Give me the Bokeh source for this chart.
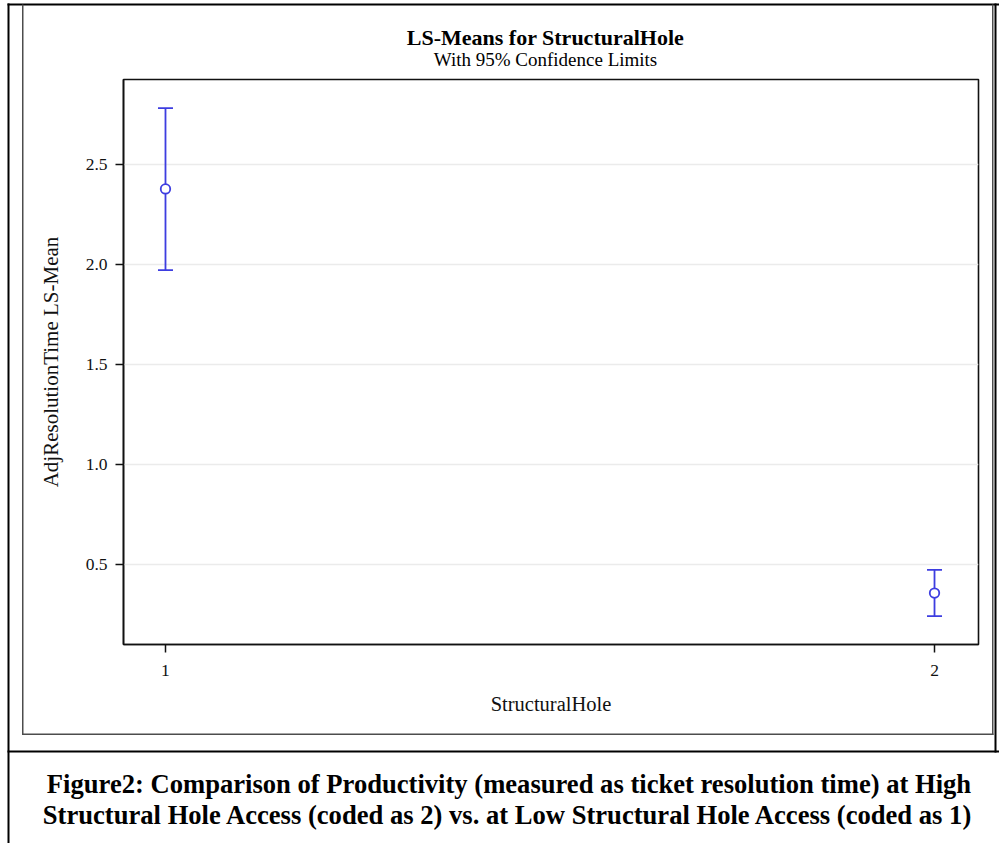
from bokeh.plotting import figure
from bokeh.models import Range1d, FixedTicker, Whisker, TeeHead, ColumnDataSource
from bokeh.core.properties import value
from bokeh.embed import file_html
from bokeh.resources import INLINE

# ---------------- data ----------------
levels = [1, 2]
level_labels = ["1", "2"]
lsmean = [2.378, 0.357]
lower_cl = [1.972, 0.242]
upper_cl = [2.782, 0.473]
y_ticks = [0.5, 1.0, 1.5, 2.0, 2.5]
y_tick_labels = ["0.5", "1.0", "1.5", "2.0", "2.5"]
title_text = "LS-Means for StructuralHole"
subtitle_text = "With 95% Confidence Limits"
x_label = "StructuralHole"
y_label = "AdjResolutionTime LS-Mean"
caption_lines = [
    "Figure2: Comparison of Productivity (measured as ticket resolution time) at High",
    "Structural Hole Access (coded as 2) vs. at Low Structural Hole Access (coded as 1)",
]

# ---------------- layout ----------------
W, H = 999, 843
FL, FT, FR, FB = 123, 79, 978, 644      # frame edges in canvas pixels
X0, X1 = 0.9454, 2.0572
Y0, Y1 = 0.1, 2.925
SERIF = "Liberation Serif"
BLUE = "#3d3de0"
DARK = "#111111"

p = figure(width=W, height=H, output_backend="svg", toolbar_location=None,
           x_range=Range1d(X0, X1), y_range=Range1d(Y0, Y1),
           min_border_left=FL, min_border_top=FT, min_border_right=W - FR,
           min_border_bottom=H - FB)
p.background_fill_color = "white"
p.border_fill_color = "white"
p.outline_line_color = DARK
p.outline_line_width = 1.6

src = ColumnDataSource(dict(x=levels, mean=lsmean, lower=lower_cl, upper=upper_cl))

p.add_layout(Whisker(source=src, base="x", lower="lower", upper="upper",
                     line_color=BLUE, line_width=1.8,
                     lower_head=TeeHead(size=15, line_color=BLUE, line_width=1.8),
                     upper_head=TeeHead(size=15, line_color=BLUE, line_width=1.8)))
p.scatter("x", "mean", source=src, marker="circle", size=9.5, fill_color="white",
          line_color=BLUE, line_width=1.8)

# axes
p.xaxis.ticker = FixedTicker(ticks=levels)
p.xaxis.major_label_overrides = {lv: lab for lv, lab in zip(levels, level_labels)}
p.yaxis.ticker = FixedTicker(ticks=y_ticks)
p.yaxis.major_label_overrides = {t: lab for t, lab in zip(y_ticks, y_tick_labels)}
for ax in (p.xaxis[0], p.yaxis[0]):
    ax.axis_line_color = DARK
    ax.axis_line_width = 1.6
    ax.major_tick_line_color = DARK
    ax.major_tick_line_width = 1.5
    ax.major_tick_out = 8
    ax.major_tick_in = 0
    ax.minor_tick_line_color = None
    ax.major_label_text_font = SERIF
    ax.major_label_text_font_size = "17.5px"
    ax.major_label_text_color = "#111111"
    ax.axis_label_text_font = SERIF
    ax.axis_label_text_font_style = "normal"
    ax.axis_label_text_color = "#111111"
p.xaxis.axis_label = x_label
p.yaxis.axis_label = y_label
p.xaxis.major_label_standoff = 12
p.yaxis.major_label_standoff = 8
p.xaxis.axis_label_text_font_size = "20.5px"
p.yaxis.axis_label_text_font_size = "21px"
p.xaxis.axis_label_standoff = 14
p.yaxis.axis_label_standoff = 20

p.xgrid.grid_line_color = None
p.ygrid.grid_line_color = "#ebebeb"
p.ygrid.grid_line_width = 1.5


# page-pixel -> data helpers for decorations drawn outside the frame
def dx(cx):
    return X0 + (cx - FL) * (X1 - X0) / (FR - FL)


def dy(cy):
    return Y0 + (FB - cy) * (Y1 - Y0) / (FB - FT)


def rule(cx0, cy0, cx1, cy1, color):
    p.quad(left=[dx(cx0)], right=[dx(cx1)], top=[dy(cy0)], bottom=[dy(cy1)],
           fill_color=color, line_color=None, level="overlay")


# document table lines
rule(7, 3, 9, H, "black")             # left
rule(7, 3, W, 5, "black")             # top
rule(994, 3, 996, 752, "black")       # right (upper cell)
rule(7, 750, W, 752, "black")         # separator
# graph box
rule(21.5, 4, 23, 734.5, "#4d4d4d")
rule(991.5, 4, 993, 734.5, "#4d4d4d")
rule(21.5, 733, 993, 734.5, "#4d4d4d")


def text(cx, cy, s, size, bold=False):
    p.text(x=[dx(cx)], y=[dy(cy)], text=[s], text_font=value(SERIF),
           text_font_size=value(size), text_font_style="bold" if bold else "normal",
           text_color="#000000", text_align="center", text_baseline="alphabetic",
           level="overlay")


text(545, 36.5, title_text, "22px", bold=True)
text(545, 58.5, subtitle_text, "19px")
text(508.5, 783.5, caption_lines[0], "26.6px", bold=True)
text(508, 814, caption_lines[1], "26.6px", bold=True)

open("out.html", "w").write(file_html(p, INLINE))
